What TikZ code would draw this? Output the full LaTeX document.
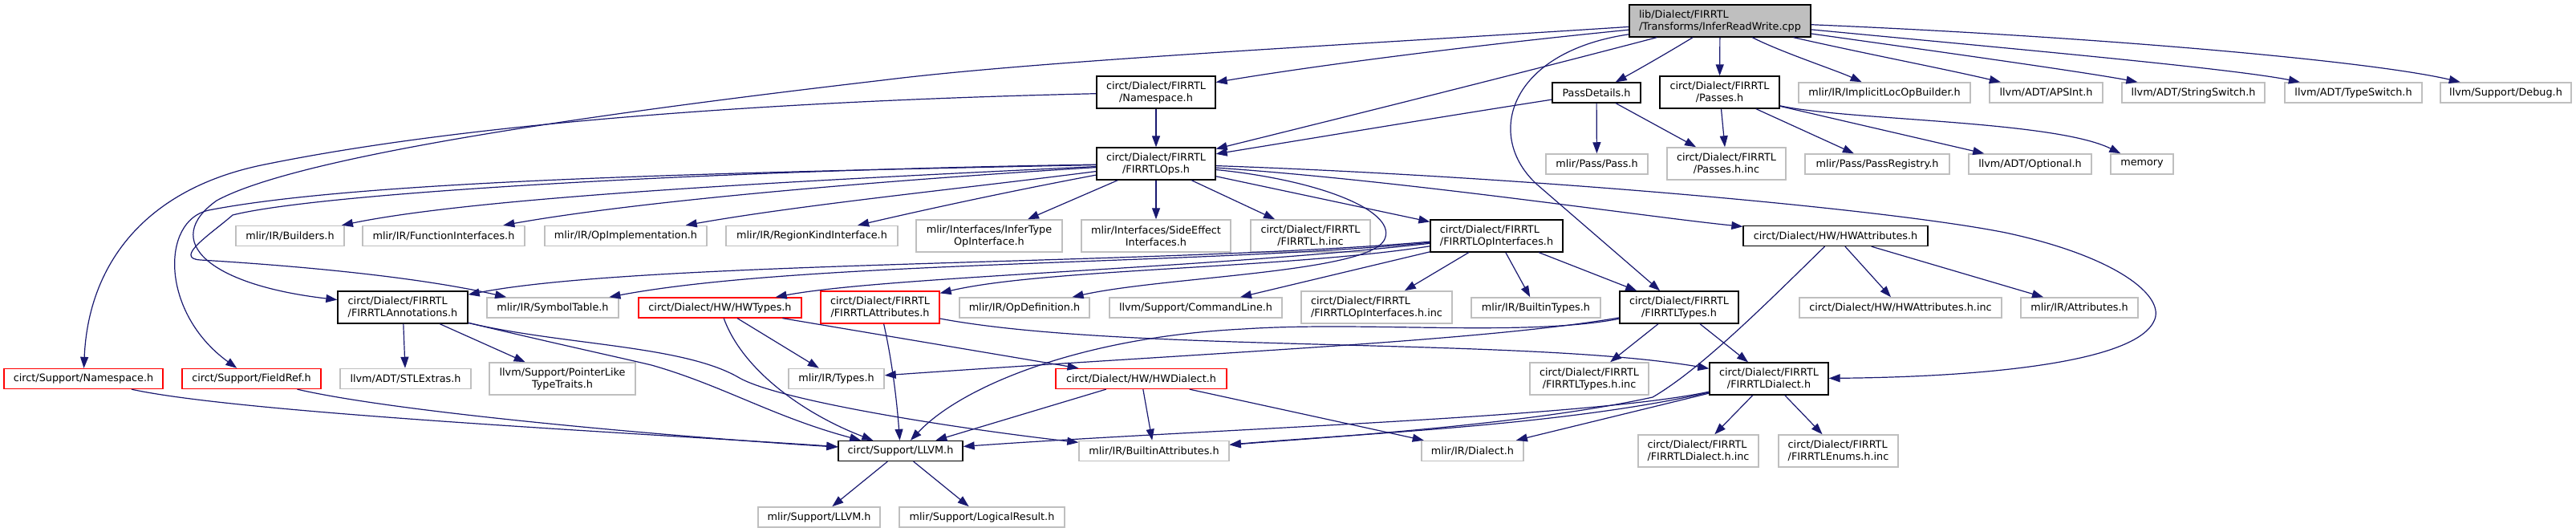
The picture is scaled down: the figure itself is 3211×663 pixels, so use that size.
\documentclass[tikz,border=0pt]{standalone}
\usepackage{fontspec}
\setmainfont{DejaVu Sans}
\usetikzlibrary{arrows.meta}
\definecolor{gry}{RGB}{191,191,191}
\definecolor{nav}{RGB}{25,25,112}
\definecolor{rdc}{RGB}{255,0,0}
\newbox\lnA
\newbox\lnB
\newcommand\twoln[2]{%
  \setbox\lnB=\hbox{#2}\setbox\lnA=\hbox{#1}%
  \ifdim\wd\lnA<\wd\lnB \setbox\lnA=\hbox to\wd\lnB{#1\hfil}\fi
  \vbox{\halign{\hfil##\hfil\cr\box\lnA\cr\box\lnB\cr}}}
\tikzset{
  base/.style={rectangle, inner sep=0pt, line width=1.3pt, text=black,
    font=\fontsize{12.8}{15}\selectfont},
  doc/.style={base, draw=black, fill=white},
  ext/.style={base, draw=gry, fill=white, line width=1.5pt},
  trunc/.style={base, draw=rdc, fill=white},
  rootn/.style={base, draw=black, fill=gry},
  wh/.style 2 args={minimum width=#1pt, minimum height=#2pt},
  arr/.style={draw=nav, line width=1.2pt, -{Triangle[length=14pt,width=10pt]}},
}
\begin{document}
\begin{tikzpicture}[x=1pt,y=-1pt]
\fill[white] (0,0) rectangle (3211,663);
\useasboundingbox (0,0) rectangle (3211,663);

% row 1
\node[rootn,wh={226}{40}] (R) at (2144,26) {\twoln{lib/Dialect/FIRRTL}{/Transforms/InferReadWrite.cpp}};
% row 2
\node[doc,wh={148}{40}] (NS) at (1441,115) {\twoln{circt/Dialect/FIRRTL}{/Namespace.h}};
\node[doc,wh={110}{25}] (PD) at (1990,115.5) {PassDetails.h};
\node[doc,wh={149}{40}] (Ps) at (2143.5,115) {\twoln{circt/Dialect/FIRRTL}{/Passes.h}};
\node[ext,wh={214}{25}] (ILB) at (2349,115.5) {mlir/IR/ImplicitLocOpBuilder.h};
\node[ext,wh={141}{25}] (APS) at (2550.5,115.5) {llvm/ADT/APSInt.h};
\node[ext,wh={178}{25}] (SS) at (2734,115.5) {llvm/ADT/StringSwitch.h};
\node[ext,wh={171}{25}] (TS) at (2933.5,115.5) {llvm/ADT/TypeSwitch.h};
\node[ext,wh={163}{25}] (DBG) at (3123.5,115.5) {llvm/Support/Debug.h};
% row 3
\node[doc,wh={148}{40}] (Ops) at (1441,204) {\twoln{circt/Dialect/FIRRTL}{/FIRRTLOps.h}};
\node[ext,wh={127}{25}] (Pass) at (1990.5,204.5) {mlir/Pass/Pass.h};
\node[ext,wh={148}{40}] (PsInc) at (2152,204) {\twoln{circt/Dialect/FIRRTL}{/Passes.h.inc}};
\node[ext,wh={180}{25}] (PReg) at (2340,204.5) {mlir/Pass/PassRegistry.h};
\node[ext,wh={153}{25}] (Opt) at (2530.5,204.5) {llvm/ADT/Optional.h};
\node[ext,wh={78}{25}] (Mem) at (2670,204.5) {memory};
% row 4
\node[ext,wh={135}{25}] (Bld) at (361.5,294) {mlir/IR/Builders.h};
\node[ext,wh={202}{25}] (FI) at (553,294) {mlir/IR/FunctionInterfaces.h};
\node[ext,wh={202}{25}] (OI) at (780,294) {mlir/IR/OpImplementation.h};
\node[ext,wh={214}{25}] (RK) at (1012,294) {mlir/IR/RegionKindInterface.h};
\node[ext,wh={182}{40}] (IT) at (1233,294) {\twoln{mlir/Interfaces/InferType}{OpInterface.h}};
\node[ext,wh={186}{40}] (SE) at (1441,294) {\twoln{mlir/Interfaces/SideEffect}{Interfaces.h}};
\node[ext,wh={149}{40}] (FInc) at (1633.5,294) {\twoln{circt/Dialect/FIRRTL}{/FIRRTL.h.inc}};
\node[doc,wh={165}{40}] (OpIf) at (1865.5,294) {\twoln{circt/Dialect/FIRRTL}{/FIRRTLOpInterfaces.h}};
\node[doc,wh={230}{25}] (HWA) at (2288,294) {circt/Dialect/HW/HWAttributes.h};
% row 5
\node[doc,wh={162}{40}] (Ann) at (502,383) {\twoln{circt/Dialect/FIRRTL}{/FIRRTLAnnotations.h}};
\node[ext,wh={164}{25}] (ST) at (689,383.5) {mlir/IR/SymbolTable.h};
\node[trunc,wh={203}{25}] (HWT) at (897.5,383.5) {circt/Dialect/HW/HWTypes.h};
\node[trunc,wh={148}{40}] (FA) at (1097,383) {\twoln{circt/Dialect/FIRRTL}{/FIRRTLAttributes.h}};
\node[ext,wh={162}{25}] (OD) at (1277,383.5) {mlir/IR/OpDefinition.h};
\node[ext,wh={215}{25}] (CL) at (1490.5,383.5) {llvm/Support/CommandLine.h};
\node[ext,wh={188}{40}] (OIInc) at (1716,383) {\twoln{circt/Dialect/FIRRTL}{/FIRRTLOpInterfaces.h.inc}};
\node[ext,wh={161}{25}] (BT) at (1914.5,383.5) {mlir/IR/BuiltinTypes.h};
\node[doc,wh={148}{40}] (Ty) at (2093,383) {\twoln{circt/Dialect/FIRRTL}{/FIRRTLTypes.h}};
\node[ext,wh={252}{25}] (HWAInc) at (2369,383.5) {circt/Dialect/HW/HWAttributes.h.inc};
\node[ext,wh={146}{25}] (Attr) at (2592,383.5) {mlir/IR/Attributes.h};
% row 6
\node[trunc,wh={198}{25}] (SNS) at (104,472) {circt/Support/Namespace.h};
\node[trunc,wh={173}{25}] (FR) at (313.5,472) {circt/Support/FieldRef.h};
\node[ext,wh={163}{25}] (STL) at (505.5,472) {llvm/ADT/STLExtras.h};
\node[ext,wh={182}{40}] (PL) at (701,472) {\twoln{llvm/Support/PointerLike}{TypeTraits.h}};
\node[ext,wh={119}{25}] (MT) at (1042.5,472) {mlir/IR/Types.h};
\node[trunc,wh={213}{25}] (HWD) at (1422.5,472) {circt/Dialect/HW/HWDialect.h};
\node[ext,wh={148}{40}] (TyInc) at (1981,472) {\twoln{circt/Dialect/FIRRTL}{/FIRRTLTypes.h.inc}};
\node[doc,wh={148}{40}] (Dia) at (2205,472) {\twoln{circt/Dialect/FIRRTL}{/FIRRTLDialect.h}};
% row 7
\node[doc,wh={155}{25}] (SL) at (1122.5,562) {circt/Support/LLVM.h};
\node[ext,wh={187}{25}] (BA) at (1438.5,562) {mlir/IR/BuiltinAttributes.h};
\node[ext,wh={127}{25}] (MD) at (1835.5,562) {mlir/IR/Dialect.h};
\node[ext,wh={150}{40}] (DInc) at (2117,562) {\twoln{circt/Dialect/FIRRTL}{/FIRRTLDialect.h.inc}};
\node[ext,wh={149}{40}] (EInc) at (2291.5,562) {\twoln{circt/Dialect/FIRRTL}{/FIRRTLEnums.h.inc}};
% row 8
\node[ext,wh={152}{25}] (ML) at (1021,644.5) {mlir/Support/LLVM.h};
\node[ext,wh={206}{25}] (LR) at (1224,644.5) {mlir/Support/LogicalResult.h};

% ---- edges from root
\draw[arr] (R) .. controls (1850,55) and (1650,80) .. (NS);
\draw[arr] (R) .. controls (1900,90) and (1700,140) .. (Ops);
\draw[arr] (R) .. controls (2080,65) and (2045,85) .. (PD);
\draw[arr] (R) -- (Ps);
\draw[arr] (R) .. controls (2220,65) and (2290,88) .. (ILB);
\draw[arr] (R) .. controls (2330,68) and (2420,85) .. (APS);
\draw[arr] (R) .. controls (2400,62) and (2600,90) .. (SS);
\draw[arr] (R) .. controls (2500,60) and (2780,85) .. (TS);
\draw[arr] (R) .. controls (2600,45) and (2950,75) .. (DBG);
\draw[arr] (R) .. controls (1880,65) and (1850,170) .. (1916,230) -- (Ty);
\draw[arr] (R) .. controls (1700,55) and (1300,75) .. (1100,100)
  .. controls (800,135) and (380,190) .. (270,250)
  .. controls (200,300) and (260,355) .. (Ann);
% ---- Namespace / PassDetails / Passes
\draw[arr] (NS) -- (Ops);
\draw[arr] (NS) .. controls (1000,125) and (600,150) .. (330,205)
  .. controls (180,235) and (110,330) .. (SNS);
\draw[arr] (PD) .. controls (1800,145) and (1650,170) .. (Ops);
\draw[arr] (PD) -- (Pass);
\draw[arr] (PD) -- (PsInc);
\draw[arr] (Ps) -- (PsInc);
\draw[arr] (Ps) -- (PReg);
\draw[arr] (Ps) -- (Opt);
\draw[arr] (Ps) .. controls (2300,150) and (2560,150) .. (Mem);
% ---- FIRRTLOps
\draw[arr] (Ops) .. controls (900,215) and (450,225) .. (260,262)
  .. controls (200,275) and (200,390) .. (FR);
\draw[arr] (Ops) .. controls (900,212) and (400,240) .. (290,268)
  .. controls (265,290) and (215,322) .. (250,324)
  .. controls (350,330) and (512,343) .. (ST);
\draw[arr] (Ops) .. controls (1000,225) and (600,245) .. (Bld);
\draw[arr] (Ops) .. controls (1100,225) and (800,250) .. (FI);
\draw[arr] (Ops) .. controls (1200,235) and (1000,255) .. (OI);
\draw[arr] (Ops) .. controls (1250,240) and (1150,262) .. (RK);
\draw[arr] (Ops) -- (IT);
\draw[arr] (Ops) -- (SE);
\draw[arr] (Ops) -- (FInc);
\draw[arr] (Ops) -- (OpIf);
\draw[arr] (Ops) .. controls (1750,225) and (2050,270) .. (HWA);
\draw[arr] (Ops) .. controls (1900,220) and (2350,260) .. (2500,290)
  .. controls (2640,320) and (2700,370) .. (2685,400)
  .. controls (2660,455) and (2450,470) .. (Dia);
\draw[arr] (Ops) .. controls (1650,225) and (1745,265) .. (1725,300)
  .. controls (1700,340) and (1450,345) .. (OD);
% ---- FIRRTLOpInterfaces
\draw[arr] (OpIf) -- (OIInc);
\draw[arr] (OpIf) -- (BT);
\draw[arr] (OpIf) -- (Ty);
\draw[arr] (OpIf) -- (CL);
\draw[arr] (OpIf) .. controls (1600,335) and (1300,335) .. (FA);
\draw[arr] (OpIf) .. controls (1500,335) and (1100,345) .. (HWT);
\draw[arr] (OpIf) .. controls (1500,330) and (1000,325) .. (ST);
\draw[arr] (OpIf) .. controls (1450,330) and (800,325) .. (Ann);
% ---- HWAttributes
\draw[arr] (HWA) -- (HWAInc);
\draw[arr] (HWA) -- (Attr);
\draw[arr] (HWA) .. controls (2200,380) and (2120,460) .. (2060,495)
  .. controls (1900,530) and (1650,545) .. (BA);
% ---- FIRRTLAnnotations
\draw[arr] (Ann) -- (STL);
\draw[arr] (Ann) -- (PL);
\draw[arr] (Ann) .. controls (700,430) and (770,445) .. (812,455)
  .. controls (900,480) and (965,520) .. (SL);
\draw[arr] (Ann) .. controls (700,430) and (850,430) .. (920,470)
  .. controls (970,500) and (1200,535) .. (BA);
% ---- HWTypes
\draw[arr] (HWT) -- (MT);
\draw[arr] (HWT) .. controls (925,460) and (1000,515) .. (SL);
\draw[arr] (HWT) -- (HWD);
% ---- FIRRTLAttributes
\draw[arr] (FA) .. controls (1112,450) and (1118,500) .. (SL);
\draw[arr] (FA) .. controls (1400,440) and (1900,420) .. (Dia);
% ---- FIRRTLTypes
\draw[arr] (Ty) -- (TyInc);
\draw[arr] (Ty) -- (Dia);
\draw[arr] (Ty) .. controls (1900,420) and (1700,400) .. (1550,410)
  .. controls (1350,420) and (1200,480) .. (SL);
\draw[arr] (Ty) .. controls (1850,425) and (1500,440) .. (MT);
% ---- HWDialect
\draw[arr] (HWD) -- (SL);
\draw[arr] (HWD) -- (BA);
\draw[arr] (HWD) -- (MD);
% ---- FIRRTLDialect
\draw[arr] (Dia) -- (DInc);
\draw[arr] (Dia) -- (EInc);
\draw[arr] (Dia) -- (MD);
\draw[arr] (Dia) .. controls (1950,530) and (1700,540) .. (BA);
\draw[arr] (Dia) .. controls (1983,520) and (1500,535) .. (SL);
% ---- support
\draw[arr] (SNS) .. controls (300,515) and (800,540) .. (SL);
\draw[arr] (FR) .. controls (500,515) and (850,545) .. (SL);
\draw[arr] (SL) -- (ML);
\draw[arr] (SL) -- (LR);
\end{tikzpicture}
\end{document}
